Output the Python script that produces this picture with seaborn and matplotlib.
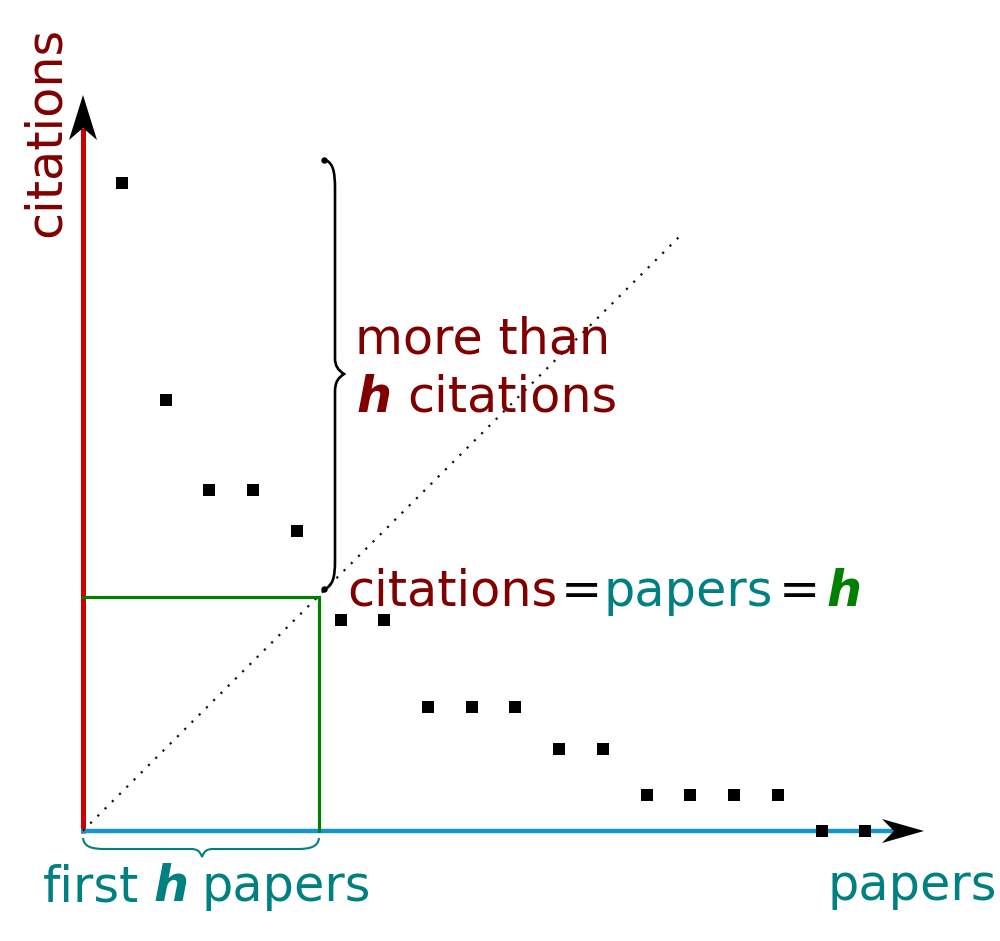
import numpy as np
import pandas as pd
import matplotlib
matplotlib.use("Agg")
import matplotlib.pyplot as plt
from matplotlib.path import Path
from matplotlib.patches import PathPatch, Polygon
from matplotlib.transforms import Affine2D
import seaborn as sns

# ---- data (paper rank vs. citations, in chart units) ----
papers = list(range(1, 19))
citations = [14.81, 9.85, 7.79, 7.79, 6.85, 4.82, 4.82, 2.84, 2.84, 2.84,
             1.86, 1.86, 0.81, 0.81, 0.81, 0.81, 0.0, 0.0]
h_index = 5
square_top = 5.34
diag_end = (13.79, 13.63)
axis_origin_x = 0.107

DARKRED = "#800000"
TEAL = "#008080"
GREEN = "#008000"
RED = "#cc0000"
BLUE = "#1396cf"

sns.set_theme(style="white")
plt.rcParams["font.family"] = ["DejaVu Sans"]

W, H = 1000, 941
fig = plt.figure(figsize=(W / 100, H / 100), dpi=100)
ax = fig.add_axes([0, 0, 1, 1])

# pixel transform (x right, y down from top)
PX = Affine2D().scale(1, -1).translate(0, H)

# axes lines
ax.plot([83, 83], [833, 128], color=RED, lw=3.6, transform=PX,
        solid_capstyle="butt", zorder=2)
ax.plot([81, 897], [830.7, 830.7], color=BLUE, lw=3.2, transform=PX,
        solid_capstyle="butt", zorder=2)

# arrowheads
def arrowhead(tip, direction, length=44, half=13, notch=12):
    tx, ty = tip
    dx, dy = direction
    nx, ny = -dy, dx
    bx, by = tx - dx * length, ty - dy * length
    pts = [(tx, ty),
           (bx + nx * half, by + ny * half),
           (tx - dx * (length - notch), ty - dy * (length - notch)),
           (bx - nx * half, by - ny * half)]
    ax.add_patch(Polygon(pts, closed=True, facecolor="black", edgecolor="none",
                         transform=PX, zorder=4, clip_on=False))

arrowhead((83, 95), (0, -1), length=45, half=14, notch=12)
arrowhead((924, 831), (1, 0), length=42, half=12, notch=12)

# diagonal dotted line
ax.plot([axis_origin_x, diag_end[0]], [0, diag_end[1]], color="#111111",
        lw=1.6, linestyle=(0, (1, 3.6)), zorder=3)

# green h-square
ax.plot([axis_origin_x, h_index + 0.5, h_index + 0.5], [square_top, square_top, 0],
        color=GREEN, lw=2.3, zorder=3, solid_joinstyle="miter")

# data points
df = pd.DataFrame({"paper": papers, "citations": citations})
sns.scatterplot(data=df, x="paper", y="citations", marker="s", color="black",
                s=86, linewidth=0, ax=ax, zorder=5, legend=False)
ax.set_xlim(-1.791, 21.082)
ax.set_ylim(-2.523, 19.0)
ax.axis("off")

# vertical brace
C, L, M = Path.CURVE4, Path.LINETO, Path.MOVETO
vb = [(323, 159), (333, 162), (335, 170), (335, 190),
      (335, 358),
      (335, 366), (338, 370), (344, 374),
      (338, 378), (335, 382), (335, 392),
      (335, 560),
      (335, 578), (333, 586), (323, 590)]
vcodes = [M, C, C, C, L, C, C, C, C, C, C, L, C, C, C]
ax.add_patch(PathPatch(Path(vb, vcodes), facecolor="none", edgecolor="black",
                       lw=1.9, transform=PX, zorder=4, clip_on=False))
ax.plot([324, 324], [160, 589], linestyle="none", marker="o", ms=3.6,
        color="black", transform=PX, zorder=4)

# bottom brace
bb = [(83, 838), (84, 847), (92, 849), (105, 849),
      (191, 849),
      (197, 849), (200, 851), (202, 857),
      (204, 851), (207, 849), (213, 849),
      (297, 849),
      (310, 849), (318, 847), (319, 838)]
ax.add_patch(PathPatch(Path(bb, vcodes), facecolor="none", edgecolor=TEAL,
                       lw=1.5, transform=PX, zorder=4, clip_on=False))

FS = 35.5
def txt(x, y, s, color, bold=False, **kw):
    ax.text(x, y, s, color=color, fontsize=FS, transform=PX, va="baseline",
            ha="left", fontweight="bold" if bold else "normal",
            fontstyle="italic" if bold else "normal", zorder=6, **kw)

# axis titles
ax.text(60, 237, "citations", color=DARKRED, fontsize=FS, transform=PX,
        rotation=90, rotation_mode="anchor", ha="left", va="baseline")
txt(827, 900, "papers", TEAL)

# brace labels
txt(355, 353, "more than", DARKRED)
txt(356, 412, "h", DARKRED, bold=True)
txt(407, 412, "citations", DARKRED)

txt(347, 606, "citations", DARKRED)
txt(561, 606, "=", "black")
txt(604, 606, "papers", TEAL)
txt(779, 606, "=", "black")
txt(826, 606, "h", GREEN, bold=True)

txt(43, 901, "first", TEAL)
txt(153, 901, "h", TEAL, bold=True)
txt(202, 901, "papers", TEAL)

fig.savefig("out.png", dpi=100)
